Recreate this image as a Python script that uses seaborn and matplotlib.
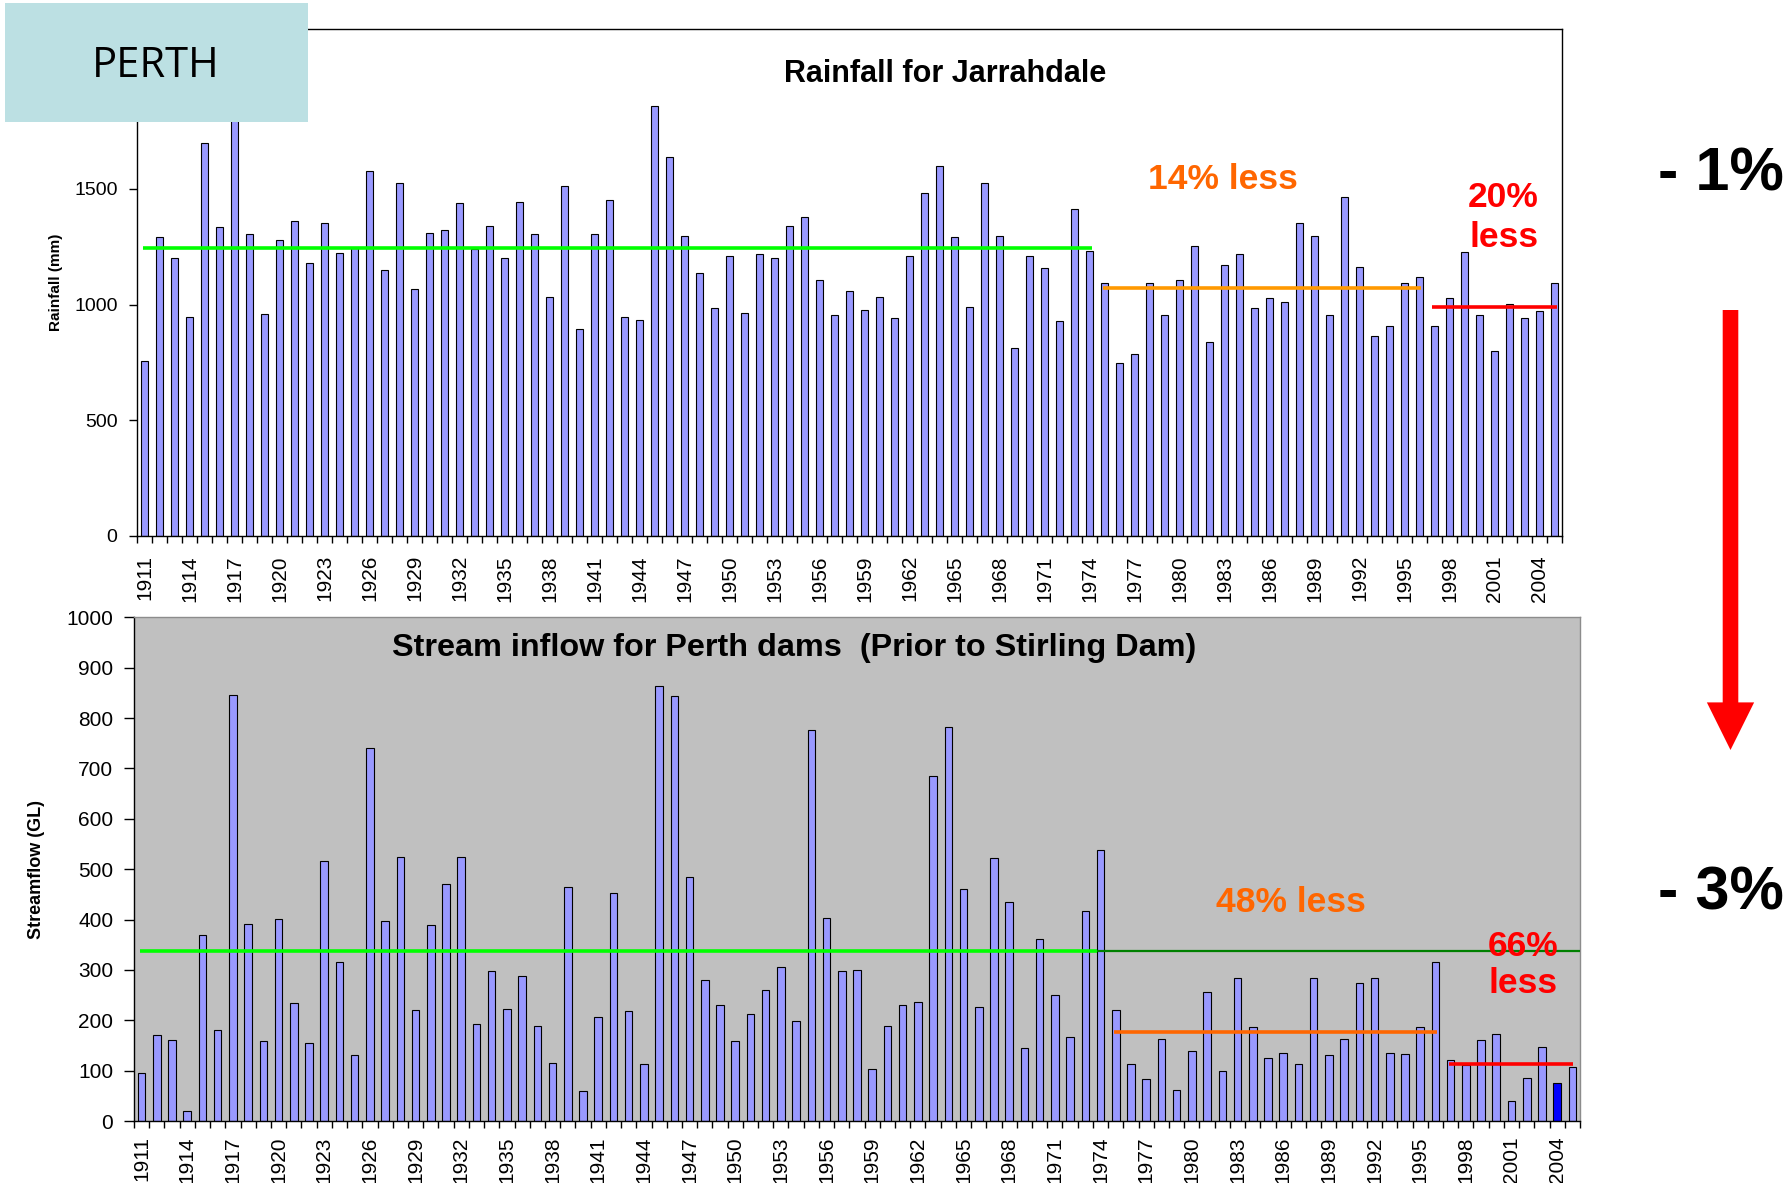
import numpy as np
import pandas as pd
import matplotlib
matplotlib.use("Agg")
import matplotlib.pyplot as plt
from matplotlib.patches import Rectangle, FancyArrow
import seaborn as sns

# data, 1911-2005
years = list(range(1911, 2006))
rainfall = [
    756, 1293, 1200, 947, 1700, 1336, 1820, 1305, 960, 1280,
    1362, 1180, 1353, 1223, 1245, 1578, 1151, 1527, 1065, 1311,
    1324, 1439, 1242, 1341, 1200, 1445, 1305, 1033, 1514, 892,
    1305, 1454, 947, 935, 1860, 1638, 1297, 1137, 986, 1212,
    965, 1219, 1200, 1340, 1379, 1108, 954, 1059, 978, 1033,
    942, 1212, 1483, 1599, 1293, 990, 1527, 1297, 813, 1212,
    1158, 929, 1415, 1232, 1091, 745, 788, 1095, 954, 1108,
    1255, 836, 1169, 1220, 986, 1029, 1009, 1354, 1298, 954,
    1467, 1164, 862, 909, 1091, 1120, 909, 1029, 1225, 954,
    801, 1004, 942, 974, 1095,
]
streamflow = [
    96, 171, 161, 20, 370, 180, 845, 392, 158, 402,
    235, 155, 516, 315, 131, 740, 397, 524, 220, 389,
    471, 524, 193, 297, 222, 287, 188, 116, 464, 59,
    206, 453, 219, 113, 863, 843, 485, 280, 231, 159,
    212, 261, 305, 199, 776, 404, 298, 300, 103, 188,
    231, 236, 684, 783, 460, 226, 522, 435, 144, 362,
    251, 166, 417, 539, 221, 113, 84, 163, 61, 139,
    256, 99, 283, 186, 126, 136, 113, 283, 131, 163,
    273, 283, 136, 133, 186, 315, 121, 112, 161, 173,
    39, 86, 147, 76, 108,
]

# period averages drawn as horizontal lines
rain_avg = [1245, 1072, 991]
flow_avg = [338, 177, 114]
rain_notes = ["14% less", "20%\nless"]
flow_notes = ["48% less", "66%\nless"]
changes = ["- 1%", "- 3%"]

sns.set_style("ticks")
plt.rcParams['font.family'] = ['Liberation Sans', 'DejaVu Sans']
plt.rcParams['text.color'] = 'black'
plt.rcParams['axes.labelcolor'] = 'black'
plt.rcParams['xtick.color'] = 'black'
plt.rcParams['ytick.color'] = 'black'

df_rain = pd.DataFrame({"year": years, "rain": rainfall})
df_flow = pd.DataFrame({"year": years, "flow": streamflow})

fig = plt.figure(figsize=(17.91, 11.83), dpi=100)
fig.patch.set_facecolor("white")

BAR = "#9999FF"
n = len(years)


def setup_x(ax, pad):
    ax.set_xlim(-0.5, n - 0.5)
    ax.set_xticks(np.arange(0, n, 3))
    ax.set_xticklabels([str(y) for y in years[::3]], rotation=90, fontsize=15)
    ax.set_xticks(np.arange(-0.5, n, 1), minor=True)
    ax.tick_params(axis='x', which='major', length=0, pad=pad)
    ax.tick_params(axis='x', which='minor', length=5, width=1,
                   direction='out', color='black')
    ax.set_xlabel('')


# ---- top: rainfall
ax1 = fig.add_axes([0.0765, 0.5472, 0.7957, 0.4287])
sns.barplot(data=df_rain, x="year", y="rain", ax=ax1, color=BAR,
            saturation=1, width=0.42, edgecolor="black", linewidth=0.8,
            errorbar=None)
ax1.set_facecolor("white")
setup_x(ax1, 14)
ax1.set_ylim(0, 2194)
ax1.set_yticks([0, 500, 1000, 1500])
ax1.tick_params(axis='y', length=6, width=1, direction='out', pad=8,
                labelsize=14)
for s in ax1.spines.values():
    s.set_color("black")
    s.set_linewidth(1)
ax1.set_ylabel("Rainfall (mm)", fontsize=11, fontweight='bold')
ax1.yaxis.set_label_coords(-0.0517, 0.5)

ax1.hlines(rain_avg[0], -0.1, 63.17, color="#00FF00", lw=2.6, zorder=3)
ax1.hlines(rain_avg[1], 63.92, 85.08, color="#FF9900", lw=2.6, zorder=3)
ax1.hlines(rain_avg[2], 85.85, 94.15, color="#FF0000", lw=2.6, zorder=3)

ax1.text(71.9, 1499, rain_notes[0], color="#FF6600", fontsize=25.5,
         fontweight='bold', ha='center', va='baseline', zorder=5)
ax1.text(90.6, 1376, rain_notes[1], color="#FF0000", fontsize=25.5,
         fontweight='bold', ha='center', va='center', multialignment='center',
         linespacing=1.3, zorder=5)
ax1.text(0.567, 0.895, "Rainfall for Jarrahdale", transform=ax1.transAxes,
         fontsize=22, fontweight='bold', ha='center', va='baseline')

# ---- bottom: streamflow
ax2 = fig.add_axes([0.0748, 0.0524, 0.8074, 0.4258])
sns.barplot(data=df_flow, x="year", y="flow", ax=ax2, color=BAR,
            saturation=1, width=0.5, edgecolor="black", linewidth=0.8,
            errorbar=None)
ax2.patches[years.index(2004)].set_facecolor("#0000FF")
ax2.set_facecolor("#C0C0C0")
setup_x(ax2, 11)
ax2.set_ylim(0, 1000)
ax2.set_yticks(np.arange(0, 1001, 100))
ax2.tick_params(axis='y', length=7, width=1, direction='out', pad=8,
                labelsize=15)
ax2.spines['left'].set_color("black")
ax2.spines['bottom'].set_color("black")
ax2.spines['top'].set_color("#8C8C8C")
ax2.spines['right'].set_color("#8C8C8C")
for s in ax2.spines.values():
    s.set_linewidth(1)
ax2.set_ylabel("Streamflow (GL)", fontsize=13, fontweight='bold')
ax2.yaxis.set_label_coords(-0.0615, 0.5)

ax2.hlines(flow_avg[0], -0.1, 62.75, color="#00FF00", lw=2.6, zorder=3)
ax2.hlines(flow_avg[0], 62.75, 94.5, color="#008000", lw=1.6, zorder=3)
ax2.hlines(flow_avg[1], 63.9, 85.1, color="#FF6600", lw=2.6, zorder=3)
ax2.hlines(flow_avg[2], 85.9, 94.07, color="#FF0000", lw=2.6, zorder=3)

ax2.text(75.5, 415, flow_notes[0], color="#FF6600", fontsize=25.5,
         fontweight='bold', ha='center', va='baseline', zorder=5)
ax2.text(90.75, 310, flow_notes[1], color="#FF0000", fontsize=25.5,
         fontweight='bold', ha='center', va='center', multialignment='center',
         linespacing=1.15, zorder=5)
ax2.text(0.4564, 0.9228, "Stream inflow for Perth dams  (Prior to Stirling Dam)",
         transform=ax2.transAxes, fontsize=23.3, fontweight='bold',
         ha='center', va='baseline')

# ---- overlay in pixel units: city box, arrow, overall changes
ov = fig.add_axes([0, 0, 1, 1], zorder=10)
ov.set_xlim(0, 1791)
ov.set_ylim(1183, 0)
ov.axis('off')
ov.patch.set_visible(False)

ov.add_patch(Rectangle((4.6, 3.4), 303.8, 118.8, facecolor="#BCE0E3",
                       edgecolor="none"))
ov.text(155.3, 77, "PERTH", fontsize=30, family=['Open Sans', 'DejaVu Sans'],
        ha='center', va='baseline', color="black")

ov.add_patch(FancyArrow(1730.5, 310, 0, 440, width=15.6, head_width=47.3,
                        head_length=47.6, length_includes_head=True,
                        color="#FF0000", lw=0))
ov.text(1720.7, 190, changes[0], fontsize=44, fontweight='bold',
        ha='center', va='baseline', color='black')
ov.text(1720.7, 909, changes[1], fontsize=44, fontweight='bold',
        ha='center', va='baseline', color='black')

fig.savefig("out.png", dpi=100)
